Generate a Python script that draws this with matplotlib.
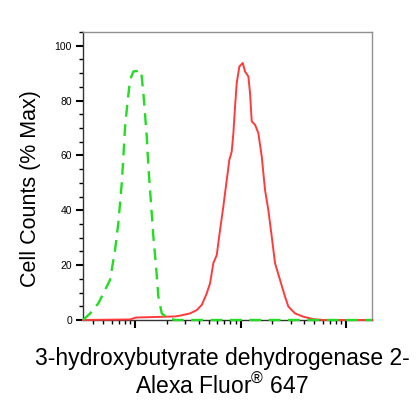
import matplotlib
matplotlib.use("Agg")
import matplotlib.pyplot as plt
import numpy as np
from matplotlib.ticker import LogLocator, MultipleLocator, NullFormatter

plt.rcParams["font.family"] = ["Liberation Sans", "DejaVu Sans"]
plt.rcParams["mathtext.fontset"] = "custom"
plt.rcParams["mathtext.rm"] = "Liberation Sans"

# isotype control (green dashed), fluorescence intensity vs % max
ctrl_x = [32.1, 37.5, 44.9, 57.9, 64.6, 69.4, 74.8, 77.5, 80.4, 85.3, 89.7,
          96.4, 114, 119.9, 129.1, 133.7, 140.9, 149.1, 158.1, 166.3, 179.1,
          205.5, 240, 1000, 5000, 17640]
ctrl_y = [0, 2.4, 6.1, 14.6, 25.5, 35.4, 49.9, 59.6, 70.5, 80.3, 87.6, 90.6,
          91.0, 82.7, 66.9, 55.9, 43.8, 30.4, 19.5, 8.5, 2.4, 0.7, 0, 0, 0, 0]

# BDH2 stained sample (red solid)
samp_x = [32.1, 89.7, 102, 192, 240, 267, 332, 384, 429, 478, 514, 552, 595,
          639, 687, 740, 783, 825, 855, 887, 920, 974, 1049, 1103, 1186, 1230,
          1277, 1372, 1475, 1588, 1707, 1834, 1976, 2123, 2368, 2642, 2839,
          3286, 3938, 4898, 6094, 17640]
samp_y = [0, 0.2, 0.9, 1.2, 1.3, 1.6, 2.4, 3.6, 5.5, 9.7, 13.4, 20.7, 23.7,
          32.8, 41.4, 51.1, 58.4, 61.4, 68.1, 77.8, 86.4, 92.4, 93.7, 90.6,
          88.8, 82.7, 72.4, 71.2, 68.1, 59.6, 47.4, 40.1, 30.4, 20.7, 14.6,
          8.5, 4.9, 2.4, 1.2, 0.3, 0, 0]

fig = plt.figure(figsize=(4.18, 4.12), dpi=100)
ax = fig.add_axes([0.1986, 0.2233, 0.6914, 0.699])

ax.plot(samp_x, samp_y, color="#ff3b3b", lw=1.4, clip_on=False, zorder=3)
ax.plot(ctrl_x, ctrl_y, color="#22dd22", lw=1.7, dashes=(5, 3.2),
        clip_on=False, zorder=4)

ax.set_xscale("log")
ax.set_xlim(32.1, 17640)
ax.set_ylim(0, 105)

ax.xaxis.set_major_locator(LogLocator(base=10, numticks=10))
ax.xaxis.set_minor_locator(LogLocator(base=10, subs=np.arange(2, 10), numticks=10))
ax.xaxis.set_major_formatter(NullFormatter())
ax.xaxis.set_minor_formatter(NullFormatter())
ax.yaxis.set_major_locator(MultipleLocator(20))
ax.yaxis.set_minor_locator(MultipleLocator(5))

ax.tick_params(which="major", direction="out", length=5, width=1.5, color="black",
               labelsize=7.5, pad=3)
ax.tick_params(which="minor", direction="out", length=3, width=1.0, color="black")
ax.tick_params(axis="x", which="major", length=6)

for side in ["top", "right"]:
    ax.spines[side].set_color("#909090")
    ax.spines[side].set_linewidth(1.0)
for side in ["left", "bottom"]:
    ax.spines[side].set_color("#333333")
    ax.spines[side].set_linewidth(1.0)

ax.set_ylabel("Cell Counts (% Max)", fontsize=15.5)
ax.yaxis.set_label_coords(-0.145, 0.458)

fig.text(0.531, 0.158, "3-hydroxybutyrate dehydrogenase 2-\nAlexa Fluor$^{\\mathregular{®}}$ 647",
         ha="center", va="top", fontsize=16.5, linespacing=1.2, multialignment="center")

fig.savefig("out.png", dpi=100)
